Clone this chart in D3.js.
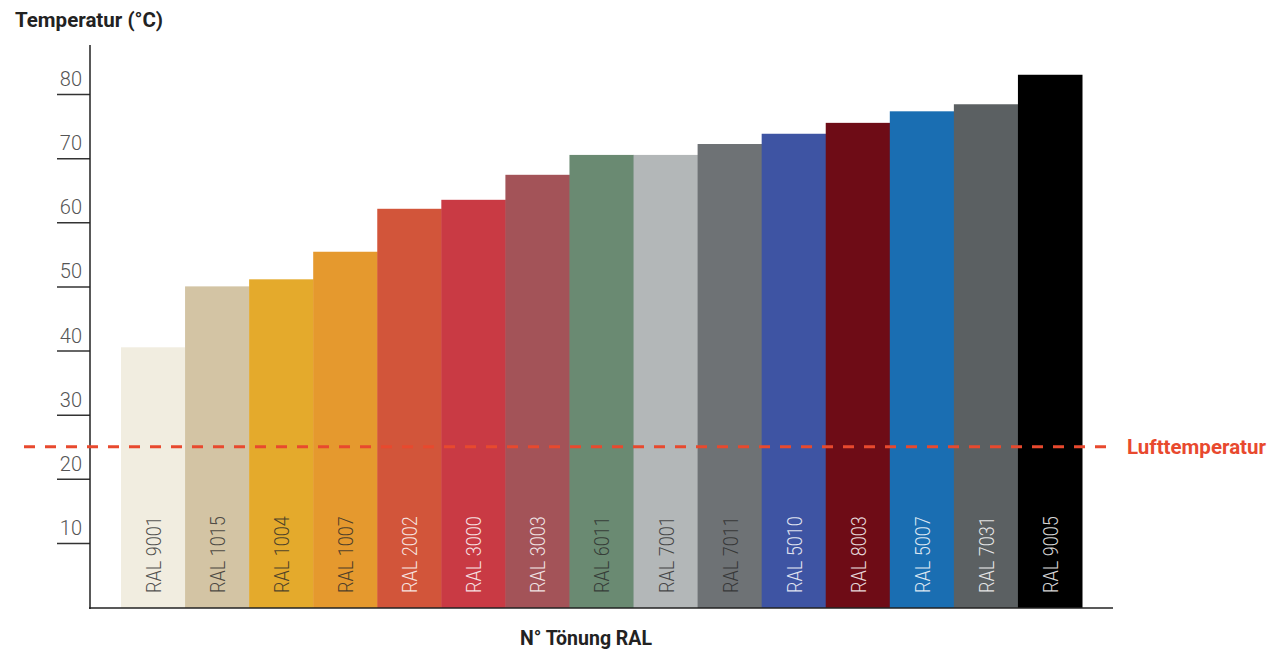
<!DOCTYPE html>
<html>
<head>
<meta charset="utf-8">
<script src="https://cdn.jsdelivr.net/npm/d3@7"></script>
<style>
    html, body { margin: 0; padding: 0; background: #fff; }
    svg { display: block; font-family: Roboto, "DejaVu Sans", sans-serif; }
</style>
</head>
<body>
<svg id="containerSVG" width="1268" height="650"></svg>
<script>

//DATI

var tonalita = ["RAL 9001", "RAL 1015", "RAL 1004", "RAL 1007", "RAL 2002", "RAL 3000", "RAL 3003", "RAL 6011",
                "RAL 7001", "RAL 7011", "RAL 5010", "RAL 8003", "RAL 5007", "RAL 7031", "RAL 9005"];

var temperature = [40.5, 50, 51.1, 55.4, 62.1, 63.5, 67.4, 70.5, 70.5, 72.2, 73.8, 75.5, 77.3, 78.4, 83];

var coloriRAL = ["#f1ede0", "#d3c4a4", "#e4aa2c", "#e5992e", "#d2553a", "#c93a44", "#a35358", "#6a8a72",
                 "#b3b7b8", "#6e7275", "#3e54a3", "#6e0c16", "#1a6eb2", "#5b6062", "#000000"];

// etichette chiare sulle barre scure
var etichetteChiare = ["RAL 2002", "RAL 3000", "RAL 3003", "RAL 5010", "RAL 8003", "RAL 5007", "RAL 7031", "RAL 9005"];

var tickY = [10, 20, 30, 40, 50, 60, 70, 80];

var temperaturaAria = 25;

var titoloY = "Temperatur (°C)";
var titoloX = "N° Tönung RAL";
var etichettaAria = "Lufttemperatur";

//VARIABILI

var svg;
var scalaX;
var scalaY;

var asseX = 90;
var baseY = 608;

//FUNZIONI

function inizializzazione(){

    svg = d3.select("#containerSVG");

    scalaX = d3.scaleBand()
        .domain(tonalita)
        .range([121, 1082])
        .padding(0);

    scalaY = d3.scaleLinear()
        .domain([0, 80])
        .range([607, 94]);

    disegnaBarre();
    disegnaAssi();
    disegnaLineaAria();
    disegnaTitoli();

}

function disegnaBarre(){

    var gruppi = svg.append("g").selectAll("g")
        .data(tonalita)
        .enter()
        .append("g");

    gruppi.append("rect")
        .attr("x", d => scalaX(d))
        .attr("y", (d, i) => scalaY(temperature[i]))
        .attr("width", scalaX.bandwidth() + 0.5)
        .attr("height", (d, i) => baseY - scalaY(temperature[i]))
        .attr("fill", (d, i) => coloriRAL[i]);

    gruppi.append("text")
        .attr("transform", d => "translate(" + (scalaX(d) + scalaX.bandwidth() / 2 + 1) + ", 593) rotate(-90) scale(0.86, 1)")
        .attr("dominant-baseline", "central")
        .style("text-anchor", "start")
        .style("font-size", "21px")
        .style("font-weight", 300)
        .attr("fill", d => etichetteChiare.indexOf(d) >= 0 ? "rgba(255,255,255,0.85)" : "rgba(40,40,40,0.8)")
        .text(d => d);

}

function disegnaAssi(){

    var asse = svg.append("g")
        .attr("transform", "translate(" + asseX + ", 0)")
        .call(d3.axisLeft(scalaY).tickValues(tickY).tickSize(33).tickSizeOuter(0));

    asse.select(".domain").remove();

    asse.selectAll(".tick line")
        .attr("stroke", "#333")
        .attr("stroke-width", 1.5);

    asse.selectAll(".tick text")
        .attr("x", -8)
        .attr("y", -8.5)
        .attr("dy", 0)
        .style("text-anchor", "end")
        .style("font-family", "Roboto, sans-serif")
        .style("font-size", "20px")
        .style("font-weight", 300)
        .attr("fill", "#555");

    // asse verticale
    svg.append("line")
        .attr("x1", asseX)
        .attr("x2", asseX)
        .attr("y1", 45)
        .attr("y2", baseY + 1)
        .attr("stroke", "#222")
        .attr("stroke-width", 1.5);

    // asse orizzontale
    svg.append("line")
        .attr("x1", asseX - 1)
        .attr("x2", scalaX.range()[1] + 31)
        .attr("y1", baseY)
        .attr("y2", baseY)
        .attr("stroke", "#222")
        .attr("stroke-width", 1.5);

}

function disegnaLineaAria(){

    var yAria = scalaY(temperaturaAria);

    svg.append("line")
        .attr("x1", 24)
        .attr("x2", 1113)
        .attr("y1", yAria)
        .attr("y2", yAria)
        .attr("stroke", "#e8492e")
        .attr("stroke-width", 3)
        .attr("stroke-dasharray", "11,10");

    svg.append("text")
        .attr("x", 1127)
        .attr("y", yAria + 7)
        .style("font-size", "20.5px")
        .style("font-weight", 700)
        .attr("fill", "#e8492e")
        .text(etichettaAria);

}

function disegnaTitoli(){

    svg.append("text")
        .attr("x", 15)
        .attr("y", 27)
        .style("font-size", "20.5px")
        .style("font-weight", 700)
        .attr("fill", "#222")
        .text(titoloY);

    svg.append("text")
        .attr("x", 586)
        .attr("y", 645)
        .style("text-anchor", "middle")
        .style("font-size", "19.5px")
        .style("font-weight", 700)
        .attr("fill", "#222")
        .text(titoloX);

}

inizializzazione();

</script>
</body>
</html>
